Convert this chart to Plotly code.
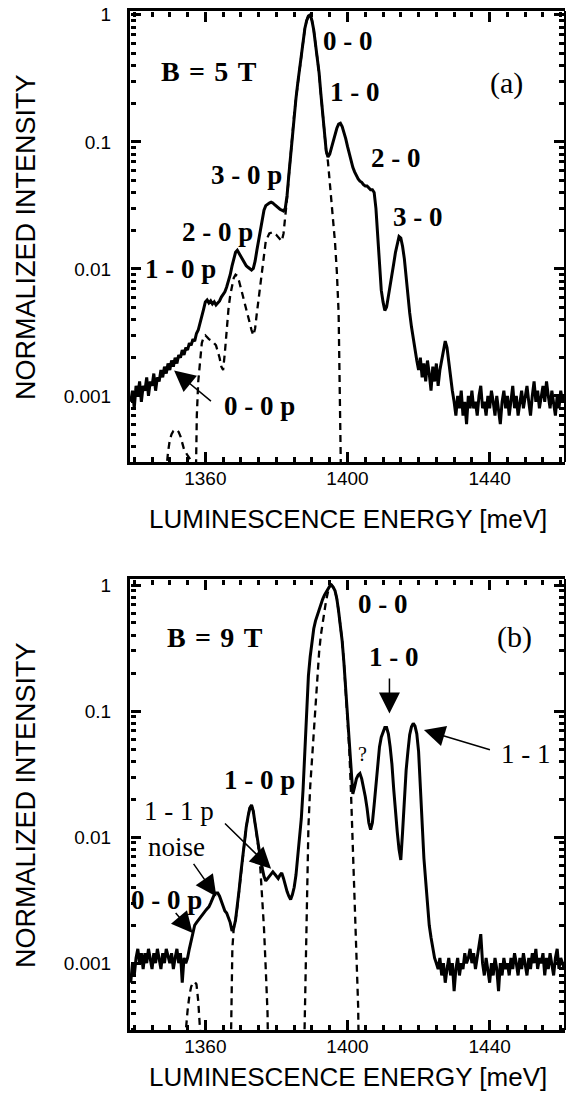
import numpy as np
import plotly.graph_objects as go

# ---------------- data ----------------
energy_grid = np.arange(1339.0, 1461.01, 0.5)  # meV sampling of the spectra

intensity_5T = [
    0.0009, 0.0011, 0.0008, 0.0012, 0.0010, 0.0013, 0.0009, 0.0012, 0.0011, 0.0014,
    0.0010, 0.0013, 0.0012, 0.0015, 0.0011, 0.0014, 0.0013, 0.0016, 0.0014, 0.0017,
    0.0015, 0.0018, 0.0016, 0.0019, 0.0017, 0.0020, 0.0018, 0.0021, 0.0020, 0.0023,
    0.0021, 0.0024, 0.0023, 0.0026, 0.0025, 0.0028, 0.0027, 0.0031, 0.0033, 0.0037,
    0.0042, 0.0048, 0.0055, 0.0057, 0.0054, 0.0056, 0.0053, 0.0055, 0.0052, 0.0054,
    0.0056, 0.0060, 0.0063, 0.0066, 0.0072, 0.0080, 0.0090, 0.0105, 0.0122, 0.0135,
    0.0140, 0.0132, 0.0125, 0.0118, 0.0112, 0.0106, 0.0103, 0.0100, 0.0098, 0.0101,
    0.0115, 0.0140, 0.0170, 0.0210, 0.0250, 0.0290, 0.0315, 0.0325, 0.0330, 0.0335,
    0.0330, 0.0320, 0.0310, 0.0300, 0.0295, 0.0290, 0.0285, 0.0300, 0.0380, 0.0550,
    0.0800, 0.120, 0.165, 0.220, 0.290, 0.380, 0.500, 0.640, 0.780, 0.900,
    0.980, 1.000, 0.900, 0.760, 0.600, 0.470, 0.350, 0.240, 0.170, 0.115,
    0.085, 0.076, 0.080, 0.090, 0.102, 0.115, 0.128, 0.138, 0.140, 0.132,
    0.120, 0.106, 0.092, 0.080, 0.070, 0.063, 0.058, 0.054, 0.051, 0.049,
    0.048, 0.046, 0.045, 0.045, 0.043, 0.042, 0.042, 0.040, 0.030, 0.018,
    0.010, 0.0068, 0.0055, 0.0047, 0.0050, 0.0060, 0.0074, 0.0090, 0.0110, 0.0135,
    0.0160, 0.0180, 0.0175, 0.0150, 0.0120, 0.0085, 0.0060, 0.0045, 0.0035, 0.0028,
    0.0022, 0.0019, 0.0016, 0.0020, 0.0014, 0.0018, 0.0013, 0.0019, 0.0015, 0.0011,
    0.0017, 0.0013, 0.0018, 0.0012, 0.0016, 0.0019, 0.0023, 0.0027, 0.0024, 0.0018,
    0.0013, 0.0011, 0.0009, 0.0007, 0.0010, 0.0008, 0.0011, 0.0007, 0.0009, 0.0006,
    0.0010, 0.0008, 0.0011, 0.0008, 0.0009, 0.0007, 0.0010, 0.0012, 0.0008, 0.0009,
    0.0007, 0.0010, 0.0008, 0.0011, 0.0009, 0.0007, 0.0010, 0.0008, 0.0006, 0.0009,
    0.0011, 0.0008, 0.0010, 0.0007, 0.0009, 0.0012, 0.0008, 0.0010, 0.0007, 0.0009,
    0.0011, 0.0008, 0.0010, 0.0012, 0.0009, 0.0007, 0.0010, 0.0013, 0.0009, 0.0011,
    0.0008, 0.0010, 0.0012, 0.0009, 0.0013, 0.0010, 0.0008, 0.0011, 0.0009, 0.0007,
    0.0010, 0.0008, 0.0011, 0.0009, 0.0010,
]

intensity_9T = [
    0.0007, 0.0010, 0.0008, 0.0011, 0.0013, 0.0010, 0.0012, 0.0009, 0.0012, 0.0010,
    0.0013, 0.0011, 0.0009, 0.0012, 0.0010, 0.0013, 0.0011, 0.0009, 0.0012, 0.0010,
    0.0013, 0.0011, 0.0010, 0.0012, 0.0009, 0.0011, 0.0013, 0.0010, 0.0012, 0.0007,
    0.0011, 0.0010, 0.0011, 0.0013, 0.0015, 0.0018, 0.0020, 0.0021, 0.0022, 0.0023,
    0.0024, 0.0025, 0.0026, 0.0027, 0.0028, 0.0030, 0.0033, 0.0035, 0.0036, 0.0036,
    0.0034, 0.0031, 0.0028, 0.0026, 0.0025, 0.0023, 0.0021, 0.0018, 0.0019, 0.0022,
    0.0028, 0.0038, 0.0052, 0.0070, 0.0092, 0.0120, 0.0145, 0.0170, 0.0180, 0.0160,
    0.0128, 0.0102, 0.0085, 0.0068, 0.0057, 0.0049, 0.0045, 0.0047, 0.0049, 0.0051,
    0.0053, 0.0051, 0.0049, 0.0047, 0.0050, 0.0052, 0.0047, 0.0041, 0.0037, 0.0034,
    0.0032, 0.0035, 0.0040, 0.0050, 0.0068, 0.0095, 0.0140, 0.024, 0.045, 0.110,
    0.190, 0.270, 0.360, 0.450, 0.520, 0.580, 0.640, 0.700, 0.770, 0.830,
    0.880, 0.930, 0.980, 1.000, 0.960, 0.900, 0.780, 0.620, 0.480, 0.360,
    0.240, 0.150, 0.090, 0.058, 0.030, 0.022, 0.025, 0.029, 0.031, 0.032,
    0.029, 0.025, 0.021, 0.017, 0.013, 0.0115, 0.013, 0.018, 0.027, 0.040,
    0.052, 0.062, 0.069, 0.074, 0.074, 0.066, 0.052, 0.038, 0.024, 0.015,
    0.011, 0.0080, 0.0066, 0.011, 0.021, 0.034, 0.048, 0.065, 0.075, 0.080,
    0.076, 0.066, 0.048, 0.025, 0.012, 0.0068, 0.0045, 0.0028, 0.0020, 0.0016,
    0.0013, 0.0011, 0.0010, 0.0009, 0.0011, 0.0008, 0.0010, 0.0007, 0.0009, 0.0011,
    0.0008, 0.0010, 0.0006, 0.0009, 0.0011, 0.0008, 0.0010, 0.0009, 0.0012, 0.0010,
    0.0011, 0.0013, 0.0010, 0.0012, 0.0009, 0.0011, 0.0013, 0.0017, 0.0010, 0.0008,
    0.0011, 0.0009, 0.0007, 0.0010, 0.0008, 0.0011, 0.0009, 0.0006, 0.0010, 0.0008,
    0.0011, 0.0009, 0.0010, 0.0008, 0.0011, 0.0009, 0.0012, 0.0010, 0.0008, 0.0011,
    0.0009, 0.0012, 0.0010, 0.0008, 0.0011, 0.0009, 0.0012, 0.0010, 0.0013, 0.0009,
    0.0011, 0.0010, 0.0012, 0.0008, 0.0011, 0.0009, 0.0012, 0.0010, 0.0008, 0.0011,
    0.0013, 0.0009, 0.0011, 0.0010, 0.0009,
]

dashed_5T_energy = [
    1348.6, 1349.0, 1349.5, 1350.0, 1350.5, 1351.0, 1351.5, 1352.0, 1352.5, 1353.0,
    1353.5, 1354.0, 1355.0, 1356.0, 1356.5, 1357.0, 1357.3, 1357.6, 1358.0, 1358.5,
    1359.0, 1359.5, 1360.0, 1361.0, 1362.0, 1363.0, 1364.0, 1364.5, 1365.0, 1365.5,
    1366.0, 1366.5, 1367.0, 1367.5, 1368.0, 1368.5, 1369.0, 1369.5, 1370.0, 1371.0,
    1372.0, 1373.0, 1373.5, 1374.0, 1374.5, 1375.0, 1375.5, 1376.0, 1376.5, 1377.0,
    1378.0, 1379.0, 1380.0, 1381.0, 1381.5, 1382.0, 1382.5, 1383.0, 1383.5, 1384.0,
    1384.5, 1385.0, 1385.5, 1386.0, 1386.5, 1387.0, 1387.5, 1388.0, 1388.5, 1389.0,
    1389.5, 1390.0, 1390.5, 1391.0, 1391.5, 1392.0, 1392.5, 1393.0, 1393.5, 1394.0,
    1394.5, 1395.0, 1395.5, 1396.0, 1396.5, 1397.0, 1397.5, 1397.8, 1398.0, 1398.2,
]
dashed_5T_intensity = [
    0.0002, 0.00028, 0.00036, 0.00045, 0.00050, 0.00053, 0.00054, 0.00054, 0.00052, 0.00048,
    0.00043, 0.00038, 0.00034, 0.00031, 0.00022, 0.00012, 0.0002, 0.0007, 0.0013, 0.0020,
    0.0026, 0.0029, 0.0030, 0.0028, 0.0027, 0.0025, 0.0020, 0.0017, 0.0016, 0.0022,
    0.0035, 0.0048, 0.0062, 0.0075, 0.0085, 0.0090, 0.0088, 0.0080, 0.0070, 0.0055,
    0.0042, 0.0033, 0.0030, 0.0034, 0.0045, 0.0058, 0.0075, 0.0100, 0.0135, 0.0165,
    0.0190, 0.0195, 0.0185, 0.0170, 0.0165, 0.0190, 0.0250, 0.036, 0.054, 0.080,
    0.120, 0.165, 0.220, 0.290, 0.380, 0.500, 0.640, 0.780, 0.900, 0.980,
    1.000, 0.900, 0.760, 0.600, 0.470, 0.350, 0.240, 0.170, 0.115, 0.085,
    0.070, 0.050, 0.036, 0.025, 0.016, 0.0095, 0.0045, 0.0012, 0.0005, 0.0002,
]

dashed_9T_energy = [
    1354.0, 1354.5, 1355.0, 1355.5, 1356.0, 1356.5, 1357.0, 1357.5, 1358.0, 1358.5, 1358.8,
    None,
    1367.0, 1367.3, 1367.6, 1368.0, 1368.5, 1369.0, 1369.5, 1370.0, 1370.5, 1371.0,
    1371.5, 1372.0, 1372.5, 1373.0, 1373.5, 1374.0, 1374.5, 1375.0, 1375.5, 1376.0,
    1376.5, 1377.0, 1377.5, 1377.8,
    None,
    1387.6, 1388.0, 1388.5, 1389.0, 1389.5, 1390.0, 1390.5, 1391.0, 1391.5, 1392.0,
    1392.5, 1393.0, 1393.5, 1394.0, 1394.5, 1395.0, 1395.5, 1396.0, 1396.5, 1397.0,
    1397.5, 1398.0, 1398.5, 1399.0, 1399.5, 1400.0, 1400.5, 1401.0, 1401.5, 1402.0,
    1402.5, 1403.0, 1403.3,
]
dashed_9T_intensity = [
    0.0002, 0.0003, 0.00042, 0.00055, 0.00065, 0.00070, 0.00071, 0.00068, 0.00050, 0.00030, 0.00015,
    None,
    0.0001, 0.0005, 0.0013, 0.0019, 0.0022, 0.0028, 0.0038, 0.0052, 0.0070, 0.0092,
    0.0120, 0.0145, 0.0170, 0.0180, 0.0160, 0.0128, 0.0102, 0.0080, 0.0055, 0.0035,
    0.0019, 0.0009, 0.0004, 0.0001,
    None,
    0.0001, 0.0004, 0.0030, 0.012, 0.025, 0.042, 0.065, 0.100, 0.180, 0.290,
    0.400, 0.500, 0.620, 0.760, 0.880, 0.970, 1.000, 0.960, 0.900, 0.780,
    0.620, 0.480, 0.360, 0.240, 0.150, 0.090, 0.050, 0.022, 0.0090, 0.0032,
    0.0011, 0.00045, 0.0001,
]

x_tick_values = [1360, 1400, 1440]
x_tick_labels = ["1360", "1400", "1440"]
y_tick_values = [1, 0.1, 0.01, 0.001]
y_tick_labels = ["1", "0.1", "0.01", "0.001"]

SP = "\u2004"  # slightly wide space used in the field labels
# peak labels: text, energy (meV), log10(intensity), bold, font size
labels_5T = [
    (f"B{SP}={SP}5{SP}T", 1361.0, -0.45, True, 28),
    ("(a)", 1444.6, -0.54, False, 30),
    ("0 - 0", 1400.1, -0.205, True, 27),
    ("1 - 0", 1402.1, -0.61, True, 27),
    ("2 - 0", 1413.6, -1.13, True, 27),
    ("3 - 0", 1419.9, -1.59, True, 27),
    ("3 - 0 p", 1371.5, -1.26, True, 27),
    ("2 - 0 p", 1363.4, -1.71, True, 27),
    ("1 - 0 p", 1352.9, -2.00, True, 27),
    ("0 - 0 p", 1375.2, -3.08, True, 27),
]
arrows_5T = [  # tail energy, tail log, tip energy, tip log
    (1362.0, -3.05, 1351.2, -2.80),
]
labels_9T = [
    (f"B{SP}={SP}9{SP}T", 1362.8, -0.42, True, 28),
    ("(b)", 1446.9, -0.41, False, 30),
    ("0 - 0", 1410.0, -0.15, True, 27),
    ("1 - 0", 1413.0, -0.57, True, 27),
    ("?", 1404.3, -1.34, False, 20),
    ("1 - 1", 1450.3, -1.34, False, 27),
    ("1 - 0 p", 1375.1, -1.55, True, 27),
    ("1 - 1 p", 1352.5, -1.79, False, 27),
    ("noise", 1351.8, -2.08, False, 27),
    ("0 - 0 p", 1349.2, -2.50, True, 27),
]
arrows_9T = [
    (1411.8, -0.73, 1411.8, -1.02),
    (1440.5, -1.31, 1421.5, -1.15),
    (1365.1, -1.88, 1378.5, -2.25),
    (1356.4, -2.20, 1363.1, -2.47),
    (1351.3, -2.59, 1356.4, -2.76),
]

# ---------------- layout constants ----------------
W, H = 566, 1093
XL, XR = 130 / W, 565 / W
YA = [1 - 462 / H, 1 - 11 / H]
YB = [1 - 1030 / H, 1 - 579 / H]
X_RANGE = [1338.8, 1461.2]
YA_RANGE = [-3.52, 0.03]
YB_RANGE = [-3.53, 0.048]

SANS = "Liberation Sans, Arial, Helvetica, sans-serif"
SERIF = "Liberation Serif, Times New Roman, serif"

minor_x = [v for v in range(1340, 1461, 5) if v not in x_tick_values]
minor_y = [k * 10.0 ** e for e in range(-4, 0) for k in range(2, 10)]

fig = go.Figure()
fig.add_trace(go.Scatter(x=energy_grid, y=intensity_5T, mode="lines",
                         line=dict(color="black", width=3), xaxis="x", yaxis="y"))
fig.add_trace(go.Scatter(x=dashed_5T_energy, y=dashed_5T_intensity, mode="lines",
                         line=dict(color="black", width=2.3, dash="7px,5px"), xaxis="x", yaxis="y"))
fig.add_trace(go.Scatter(x=energy_grid, y=intensity_9T, mode="lines",
                         line=dict(color="black", width=3), xaxis="x2", yaxis="y2"))
fig.add_trace(go.Scatter(x=dashed_9T_energy, y=dashed_9T_intensity, mode="lines", connectgaps=False,
                         line=dict(color="black", width=2.3, dash="7px,5px"), xaxis="x2", yaxis="y2"))

# empty traces that register the tick-only overlay axes
for xa_id, ya_id in (("x3", "y"), ("x4", "y"), ("x", "y3"), ("x", "y4"),
                     ("x5", "y2"), ("x6", "y2"), ("x2", "y5"), ("x2", "y6")):
    fig.add_trace(go.Scatter(x=[], y=[], mode="lines", xaxis=xa_id, yaxis=ya_id,
                             hoverinfo="skip", showlegend=False))


def main_x(anchor):
    return dict(domain=[XL, XR], range=X_RANGE, anchor=anchor, showline=True, linewidth=3,
                linecolor="black", mirror=True, ticks="", tickvals=x_tick_values,
                ticktext=x_tick_labels, tickfont=dict(family=SANS, size=19, color="black"),
                ticklabelstandoff=-3, showgrid=False, zeroline=False)


def main_y(anchor, dom, rng):
    return dict(domain=dom, range=rng, type="log", anchor=anchor, showline=True, linewidth=3,
                linecolor="black", mirror=False, ticks="", tickvals=y_tick_values,
                ticktext=y_tick_labels, tickfont=dict(family=SANS, size=19, color="black"),
                ticklabelstandoff=12, showgrid=False, zeroline=False)


def tick_x(over, side, pos):
    # tick-only axis: its "outside" ticks point into the plot frame
    return dict(overlaying=over, anchor="free", position=pos, side=side, range=X_RANGE,
                showline=False, showticklabels=False, ticks="outside", ticklen=10, tickwidth=2.5,
                tickcolor="black", tickvals=x_tick_values, showgrid=False, zeroline=False,
                minor=dict(tickvals=minor_x, ticks="outside", ticklen=5, tickwidth=2.5,
                           tickcolor="black", showgrid=False))


def tick_y(over, side, pos, rng, line=False):
    return dict(overlaying=over, anchor="free", position=pos, side=side, type="log", range=rng,
                showline=line, linewidth=1.5, linecolor="black", showticklabels=False,
                ticks="outside", ticklen=10, tickwidth=2.5, tickcolor="black",
                tickvals=y_tick_values, showgrid=False, zeroline=False,
                minor=dict(tickvals=minor_y, ticks="outside", ticklen=5, tickwidth=2.5,
                           tickcolor="black", showgrid=False))


annotations = []


def add_labels(labels, xr, yr):
    for text, ex, ly, bold, size in labels:
        annotations.append(dict(text=f"<b>{text}</b>" if bold else text, x=ex, y=ly, xref=xr, yref=yr,
                                showarrow=False, xanchor="center", yanchor="middle",
                                font=dict(family=SERIF, size=size, color="black")))


def add_arrows(arrows, xr, yr):
    for tx, tl, hx, hl in arrows:
        annotations.append(dict(text="", x=hx, y=hl, ax=tx, ay=tl, xref=xr, yref=yr, axref=xr, ayref=yr,
                                showarrow=True, arrowhead=2, arrowsize=2.8, arrowwidth=1.5,
                                arrowcolor="black"))


add_labels(labels_5T, "x", "y")
add_arrows(arrows_5T, "x", "y")
add_labels(labels_9T, "x2", "y2")
add_arrows(arrows_9T, "x2", "y2")

xmid = (XL + XR) / 2
for ytitle_center, xtitle_y in ((237, 519), (805, 1077)):
    annotations.append(dict(text="NORMALIZED INTENSITY", x=26 / W, y=1 - ytitle_center / H,
                            xref="paper", yref="paper", textangle=-90, showarrow=False,
                            xanchor="center", yanchor="middle",
                            font=dict(family=SANS, size=27, color="black")))
    annotations.append(dict(text="LUMINESCENCE ENERGY [meV]", x=xmid, y=1 - xtitle_y / H,
                            xref="paper", yref="paper", showarrow=False,
                            xanchor="center", yanchor="middle",
                            font=dict(family=SANS, size=26, color="black")))

fig.update_layout(
    template="none",
    width=W, height=H, margin=dict(l=0, r=0, t=0, b=0),
    paper_bgcolor="white", plot_bgcolor="white", showlegend=False,
    xaxis=main_x("y"), yaxis=main_y("x", YA, YA_RANGE),
    xaxis2=main_x("y2"), yaxis2=main_y("x2", YB, YB_RANGE),
    xaxis3=tick_x("x", "top", YA[0]), xaxis4=tick_x("x", "bottom", YA[1]),
    yaxis3=tick_y("y", "right", XL, YA_RANGE), yaxis4=tick_y("y", "left", XR, YA_RANGE, True),
    xaxis5=tick_x("x2", "top", YB[0]), xaxis6=tick_x("x2", "bottom", YB[1]),
    yaxis5=tick_y("y2", "right", XL, YB_RANGE), yaxis6=tick_y("y2", "left", XR, YB_RANGE, True),
    annotations=annotations,
)

fig.write_html("out.html", config={"displayModeBar": False},
               post_script="document.body.style.margin='0';document.body.style.overflow='hidden';")
